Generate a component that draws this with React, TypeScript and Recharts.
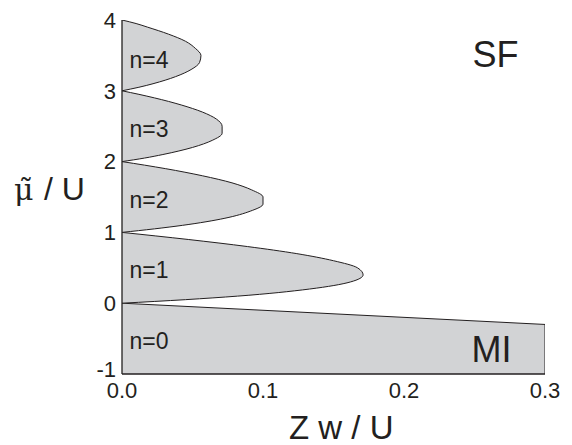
import { ComposedChart, Area, XAxis, YAxis } from "recharts";

// phase boundary Zw/U, lobe by lobe (mu = chemical potential / U)
const muN0 = [-1, -0.3, 0];
const wN0 = [0.3, 0.3, 0];

const muN1 = [0, 0.05, 0.1, 0.2, 0.3, 0.4, 0.5, 0.6, 0.7, 0.8, 0.9, 0.95, 1];
const wN1 = [0, 0.045, 0.082, 0.133, 0.162, 0.171, 0.167, 0.15, 0.124, 0.089, 0.047, 0.024, 0];

const muN2 = [1, 1.05, 1.1, 1.2, 1.3, 1.4, 1.5, 1.6, 1.7, 1.8, 1.9, 1.95, 2];
const wN2 = [0, 0.023, 0.043, 0.073, 0.091, 0.1, 0.1, 0.092, 0.078, 0.057, 0.031, 0.016, 0];

const muN3 = [2, 2.05, 2.1, 2.2, 2.3, 2.4, 2.5, 2.6, 2.7, 2.8, 2.9, 2.95, 3];
const wN3 = [0, 0.016, 0.029, 0.05, 0.064, 0.071, 0.071, 0.067, 0.057, 0.042, 0.023, 0.012, 0];

const muN4 = [3, 3.05, 3.1, 3.2, 3.3, 3.4, 3.5, 3.6, 3.7, 3.8, 3.9, 3.95, 4];
const wN4 = [0, 0.012, 0.022, 0.038, 0.049, 0.055, 0.056, 0.052, 0.045, 0.033, 0.018, 0.01, 0];

const xTicks = [0, 0.1, 0.2, 0.3];
const xMinorTicks = [0, 0.05, 0.1, 0.15, 0.2, 0.25, 0.3];
const yTicks = [-1, 0, 1, 2, 3, 4];
const yMinorTicks = [-1, -0.5, 0, 0.5, 1, 1.5, 2, 2.5, 3, 3.5, 4];

const lobeLabels = ["n=0", "n=1", "n=2", "n=3", "n=4"];

const lobes = [
  { key: "w0", mu: muN0, w: wN0 },
  { key: "w1", mu: muN1, w: wN1 },
  { key: "w2", mu: muN2, w: wN2 },
  { key: "w3", mu: muN3, w: wN3 },
  { key: "w4", mu: muN4, w: wN4 },
];

// one row per mu, each lobe only defined on its own interval
const allMu = Array.from(new Set(lobes.flatMap((l) => l.mu))).sort((a, b) => a - b);
const data = allMu.map((mu) => {
  const row: Record<string, number> = { mu };
  lobes.forEach((l) => {
    const i = l.mu.indexOf(mu);
    if (i >= 0) row[l.key] = l.w[i];
  });
  return row;
});

const INK = "#231f20";
const FILL = "#d2d3d5";
const font = "'Liberation Sans', Arial, sans-serif";

// label baselines in wrapper coords
const labelY = [340.5, 270, 199.5, 129, 60];

// the bottom "-1" sits a bit higher so it clears the 0.0 label
function YTick(props: any) {
  const { x, y, payload } = props;
  const lift = payload.value === -1 ? -5 : 0;
  return (
    <text
      x={x}
      y={y + lift}
      dy="0.355em"
      textAnchor="end"
      fontSize={22}
      fill={INK}
      fontFamily={font}
    >
      {payload.value}
    </text>
  );
}

export default function App() {
  return (
    <div style={{ position: "relative", width: 564, height: 437, fontFamily: font }}>
      <ComposedChart
        width={564}
        height={437}
        data={data}
        layout="vertical"
        margin={{ top: 12, right: 27, bottom: 0, left: 0 }}
      >
        <XAxis
          type="number"
          domain={[0, 0.3]}
          ticks={xTicks}
          allowDataOverflow
          tickFormatter={(v: number) => v.toFixed(1)}
          height={71}
          tickLine={false}
          tickSize={6}
          tickMargin={2}
          axisLine={{ stroke: INK, strokeWidth: 1.3 }}
          tick={{ fill: INK, fontSize: 22, fontFamily: font }}
        />
        <XAxis
          xAxisId="top"
          orientation="top"
          type="number"
          domain={[0, 0.3]}
          ticks={xMinorTicks}
          height={0}
          mirror
          tick={false}
          tickSize={4}
          tickLine={{ stroke: INK }}
          axisLine={{ stroke: INK, strokeWidth: 1.3 }}
        />
        <YAxis
          type="number"
          dataKey="mu"
          domain={[-1, 4]}
          ticks={yTicks}
          reversed
          allowDataOverflow
          width={114}
          tickLine={false}
          tickSize={0}
          tickMargin={6}
          axisLine={{ stroke: INK, strokeWidth: 1.3 }}
          tick={<YTick />}
        />
        <YAxis
          yAxisId="right"
          orientation="right"
          type="number"
          domain={[-1, 4]}
          ticks={yMinorTicks}
          reversed
          width={0}
          mirror
          tick={false}
          tickSize={4}
          tickLine={{ stroke: INK }}
          axisLine={{ stroke: INK, strokeWidth: 1.3 }}
        />
        {lobes.map((l) => (
          <Area
            key={l.key}
            dataKey={l.key}
            type={l.key === "w0" ? "linear" : "monotone"}
            fill={FILL}
            fillOpacity={1}
            stroke={INK}
            strokeWidth={1}
            dot={false}
            activeDot={false}
            isAnimationActive={false}
          />
        ))}
      </ComposedChart>
      <svg
        width={564}
        height={437}
        style={{ position: "absolute", left: 0, top: 0, pointerEvents: "none", overflow: "visible" }}
      >
        {lobeLabels.map((t, i) => (
          <text key={t} x={121.5} y={labelY[i]} fontSize={23} fill={INK} fontFamily={font}>
            {t}
          </text>
        ))}
        <text x={464.5} y={58.7} fontSize={36} fill={INK} fontFamily={font}>SF</text>
        <text x={463.5} y={354} fontSize={36} fill={INK} fontFamily={font}>MI</text>
        <text x={281} y={430.5} fontSize={33} fill={INK} fontFamily={font} xmlSpace="preserve">
          Z w / U
        </text>
        <text x={6} y={192} fontSize={30} fill={INK} fontFamily="'DejaVu Serif', serif">
          {"\u03bc\u0303"}
        </text>
        <text x={27} y={192} fontSize={32} fill={INK} fontFamily={font} xmlSpace="preserve">
          {" / U"}
        </text>
      </svg>
    </div>
  );
}
